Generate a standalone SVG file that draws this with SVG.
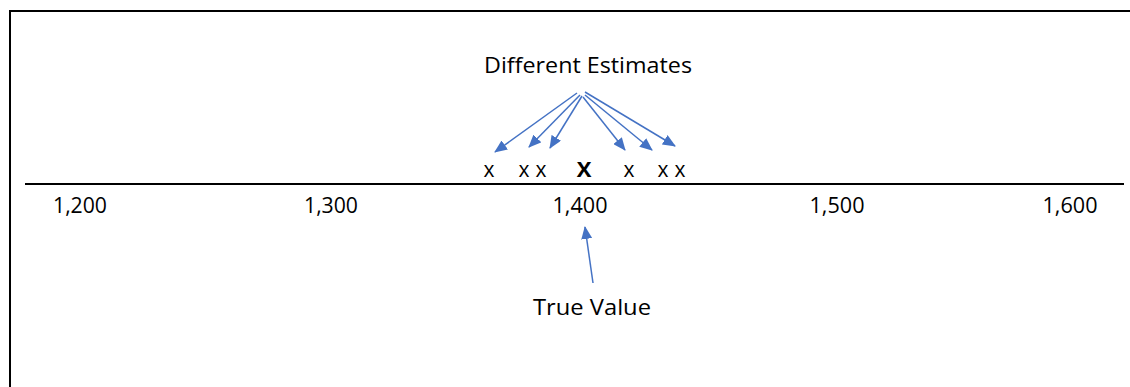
<svg xmlns="http://www.w3.org/2000/svg" width="1130" height="387" viewBox="0 0 1130 387">
<style>
text{font-family:"Open Sans","Liberation Sans",sans-serif;font-size:21px;fill:#000}
.lbl{text-anchor:middle}
.arr{stroke:#4472C4;stroke-width:1.5;fill:none;marker-end:url(#ah)}
</style>
<defs>
<marker id="ah" markerWidth="13" markerHeight="11" refX="12" refY="5.5" orient="auto" markerUnits="userSpaceOnUse" viewBox="0 0 13 11">
<path d="M0,0 L13,5.5 L0,11 z" fill="#4472C4"/>
</marker>
</defs>
<rect width="1130" height="387" fill="#fff"/>
<g id="frame">
<path d="M10,387 V11 H1130" fill="none" stroke="#000" stroke-width="2"/>
</g>
<g id="axis">
<line x1="25" y1="184" x2="1124" y2="184" stroke="#000" stroke-width="2"/>
</g>
<g id="ticks">
<text class="lbl" x="80" y="213" textLength="54" lengthAdjust="spacingAndGlyphs">1,200</text>
<text class="lbl" x="331" y="213" textLength="54" lengthAdjust="spacingAndGlyphs">1,300</text>
<text class="lbl" x="580" y="213" textLength="55" lengthAdjust="spacingAndGlyphs">1,400</text>
<text class="lbl" x="837" y="213" textLength="55" lengthAdjust="spacingAndGlyphs">1,500</text>
<text class="lbl" x="1070" y="213" textLength="55" lengthAdjust="spacingAndGlyphs">1,600</text>
</g>
<g id="estimates-label">
<text x="484" y="73" textLength="208" lengthAdjust="spacingAndGlyphs">Different Estimates</text>
</g>
<g id="estimates">
<text class="lbl" x="489" y="177">x</text>
<text class="lbl" x="524" y="177">x</text>
<text class="lbl" x="541" y="177">x</text>
<text class="lbl" x="584" y="177" font-weight="bold" style="font-size:22px">X</text>
<text class="lbl" x="629" y="177">x</text>
<text class="lbl" x="663" y="177">x</text>
<text class="lbl" x="680" y="177">x</text>
</g>
<g id="true-value-label">
<text x="533" y="315" textLength="118" lengthAdjust="spacingAndGlyphs">True Value</text>
</g>
<g id="connectors">
<line class="arr" x1="577" y1="93" x2="495" y2="152"/>
<line class="arr" x1="580" y1="95" x2="529" y2="147"/>
<line class="arr" x1="582" y1="96" x2="550" y2="148"/>
<line class="arr" x1="583" y1="97" x2="625" y2="150"/>
<line class="arr" x1="585" y1="95" x2="652" y2="150"/>
<line class="arr" x1="585" y1="92" x2="675" y2="146"/>
<line class="arr" x1="593" y1="283" x2="585" y2="227"/>
</g>
</svg>
